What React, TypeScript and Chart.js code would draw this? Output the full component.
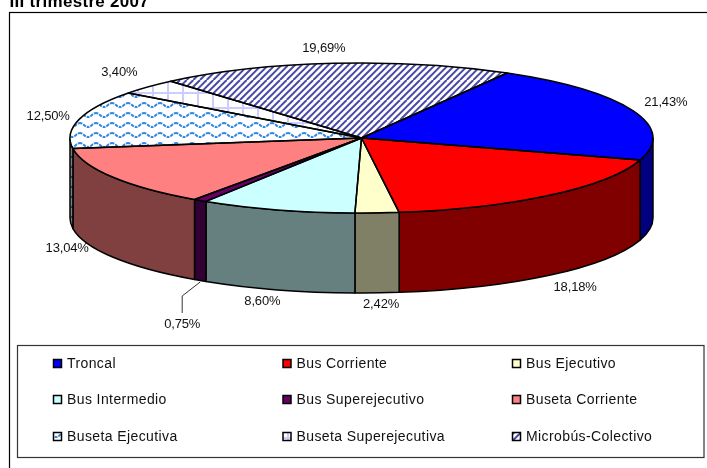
import React, { useEffect, useRef } from "react";
import { Chart, registerables } from "chart.js";

Chart.register(...registerables);

const titleText = "III trimestre 2007";
const categories = [
  "Troncal",
  "Bus Corriente",
  "Bus Ejecutivo",
  "Bus Intermedio",
  "Bus Superejecutivo",
  "Buseta Corriente",
  "Buseta Ejecutiva",
  "Buseta Superejecutiva",
  "Microbús-Colectivo",
];
const shares = [21.43, 18.18, 2.42, 8.6, 0.75, 13.04, 12.5, 3.4, 19.69];

const solidColors = ["#0000FF", "#FF0000", "#FFFFCC", "#CCFFFF", "#660066", "#FF8080"];
const wallColors = ["#000080", "#800000", "#808066", "#668080", "#330033", "#804040"];

// Projection of the round pie to a tilted disc
const RX = 291.5;
const RY = 75;
const DEPTH = 80;
// Distance from the rim point at each slice's middle angle to its label
const labelOffsets = [
  [33, -8.6], [25.7, 91.6], [4, 92], [-15, 92], [-18, 123.5], [-46, 71], [-31, -3], [-29, -14], [-10, -15],
];
const legendCols = [53.5, 283, 512.5];
const legendRows = [363.5, 399.5, 436.5];

function tile(w: number, h: number, paint: (c: CanvasRenderingContext2D) => void) {
  const cv = document.createElement("canvas");
  cv.width = w;
  cv.height = h;
  paint(cv.getContext("2d")!);
  return cv;
}

function wavePaint(bg: string, fg: string) {
  return (c: CanvasRenderingContext2D) => {
    c.fillStyle = bg;
    c.fillRect(0, 0, 16, 10);
    c.strokeStyle = fg;
    c.lineWidth = 2;
    c.setLineDash([3, 1]);
    c.beginPath();
    c.moveTo(-4, 5);
    for (let x = -4; x < 20; x += 16) {
      c.quadraticCurveTo(x + 4, 1, x + 8, 5);
      c.quadraticCurveTo(x + 12, 9, x + 16, 5);
    }
    c.stroke();
  };
}

function gridPaint(c: CanvasRenderingContext2D) {
  c.fillStyle = "#FFFFFF";
  c.fillRect(0, 0, 15, 15);
  c.fillStyle = "#CCCCFF";
  c.fillRect(2, 0, 2, 15);
  c.fillRect(0, 2, 15, 2);
}

function stripePaint(c: CanvasRenderingContext2D) {
  c.fillStyle = "#FFFFFF";
  c.fillRect(0, 0, 20, 20);
  c.strokeStyle = "#4A4AA6";
  c.lineWidth = 2;
  for (let k = -3; k < 7; k++) {
    const o = (k * 20) / 3;
    c.beginPath();
    c.moveTo(o, 20);
    c.lineTo(o + 20, 0);
    c.stroke();
  }
}

export default function App() {
  const ref = useRef<HTMLCanvasElement>(null);
  useEffect(() => {
    const canvas = ref.current!;
    const ctx0 = canvas.getContext("2d")!;
    const wave = ctx0.createPattern(tile(16, 10, wavePaint("#FFFFFF", "#3388DD")), "repeat")!;
    const grid = ctx0.createPattern(tile(15, 15, gridPaint), "repeat")!;
    const stripes = ctx0.createPattern(tile(20, 20, stripePaint), "repeat")!;
    const waveWall = ctx0.createPattern(tile(16, 10, wavePaint("#808080", "#1A4470")), "repeat")!;
    const patterns = [wave, grid, stripes];
    const topFills: (string | CanvasPattern)[] = [...solidColors, ...patterns];
    const wallFills: (string | CanvasPattern)[] = [...wallColors, waveWall, "#808080", "#404060"];

    const tilt = {
      id: "tilt",
      beforeDraw(chart: any) {
        const c = chart.ctx;
        c.save();
        c.fillStyle = "#FFFFFF";
        c.fillRect(0, 0, chart.width, chart.height);
        // outer frame runs off the right and bottom of the picture
        c.strokeStyle = "#000000";
        c.lineWidth = 1.2;
        c.strokeRect(9.5, 12.5, chart.width + 20, chart.height + 20);
        c.font = "bold 17px 'Liberation Sans'";
        c.letterSpacing = "0.3px";
        c.fillStyle = "#000000";
        c.textBaseline = "alphabetic";
        c.fillText(titleText, 9.5, 7);
        c.restore();
      },
      beforeDatasetsDraw(chart: any) {
        const c = chart.ctx;
        const arcs = chart.getDatasetMeta(0).data;
        const { x: cx, y: cy, outerRadius: r } = arcs[0];
        c.save();
        c.lineWidth = 1.5;
        c.strokeStyle = "#000000";
        c.lineJoin = "round";
        arcs.forEach((arc: any, i: number) => {
          for (const k of [0, Math.PI * 2]) {
            const a = Math.max(arc.startAngle, k);
            const b = Math.min(arc.endAngle, k + Math.PI);
            if (b <= a) continue;
            c.beginPath();
            c.ellipse(cx, cy, RX, RY, 0, a, b);
            c.ellipse(cx, cy + DEPTH, RX, RY, 0, b, a, true);
            c.closePath();
            c.fillStyle = wallFills[i];
            c.fill();
            c.stroke();
          }
        });
        c.restore();
        c.save();
        c.translate(cx, cy);
        c.scale(RX / r, RY / r);
        c.translate(-cx, -cy);
        const m = c.getTransform().inverse();
        patterns.forEach((p) => p.setTransform(m));
      },
      afterDatasetsDraw(chart: any) {
        const c = chart.ctx;
        c.restore();
        const arcs = chart.getDatasetMeta(0).data;
        const { x: cx, y: cy } = arcs[0];
        c.save();
        c.strokeStyle = "#000000";
        c.lineWidth = 1.5;
        c.lineJoin = "round";
        arcs.forEach((arc: any) => {
          c.beginPath();
          c.moveTo(cx, cy);
          c.ellipse(cx, cy, RX, RY, 0, arc.startAngle, arc.endAngle);
          c.closePath();
          c.stroke();
        });

        // data labels
        c.font = "13px 'Liberation Sans'";
        c.letterSpacing = "-0.15px";
        c.textAlign = "center";
        c.textBaseline = "middle";
        c.fillStyle = "#111111";
        arcs.forEach((arc: any, i: number) => {
          const mid = (arc.startAngle + arc.endAngle) / 2;
          const px = cx + RX * Math.cos(mid);
          const py = cy + RY * Math.sin(mid);
          const [dx, dy] = labelOffsets[i];
          const text = shares[i].toFixed(2).replace(".", ",") + "%";
          c.fillText(text, px + dx, py + dy);
          if (categories[i] === "Bus Superejecutivo") {
            c.lineWidth = 0.8;
            c.beginPath();
            c.moveTo(px, py + DEPTH + 1.5);
            c.lineTo(px + dx, py + dy - 28);
            c.lineTo(px + dx, py + dy - 11);
            c.stroke();
          }
        });
        c.restore();

        // legend
        c.save();
        c.strokeStyle = "#333333";
        c.lineWidth = 1.2;
        c.strokeRect(17.5, 345.5, 686.5, 112);
        c.font = "14px 'Liberation Sans'";
        c.letterSpacing = "0.4px";
        c.textAlign = "left";
        c.textBaseline = "middle";
        categories.forEach((name, i) => {
          const x = legendCols[i % 3];
          const y = legendRows[Math.floor(i / 3)];
          c.fillStyle = topFills[i];
          if (typeof topFills[i] !== "string") (topFills[i] as CanvasPattern).setTransform(new DOMMatrix());
          c.fillRect(x, y - 4, 8, 8);
          c.strokeStyle = "#000000";
          c.lineWidth = 1.5;
          c.strokeRect(x, y - 4, 8, 8);
          c.fillStyle = "#111111";
          c.fillText(name, x + 13.5, y + 0.5);
        });
        c.restore();
      },
    };

    const chart = new Chart(canvas, {
      type: "pie",
      data: {
        labels: categories,
        datasets: [
          {
            data: shares,
            backgroundColor: topFills as any,
            borderWidth: 0,
            clip: false as any,
          },
        ],
      },
      options: {
        animation: false,
        responsive: false,
        devicePixelRatio: 1,
        rotation: 30,
        events: [],
        layout: { padding: { left: 241.5, right: 225.5, top: 18, bottom: 210 } },
        plugins: { legend: { display: false }, tooltip: { enabled: false }, title: { display: false } },
      },
      plugins: [tilt],
    } as any);
    return () => chart.destroy();
  }, []);
  return (
    <canvas
      ref={ref}
      width={707}
      height={468}
      style={{ position: "absolute", left: 0, top: 0, display: "block" }}
    />
  );
}
